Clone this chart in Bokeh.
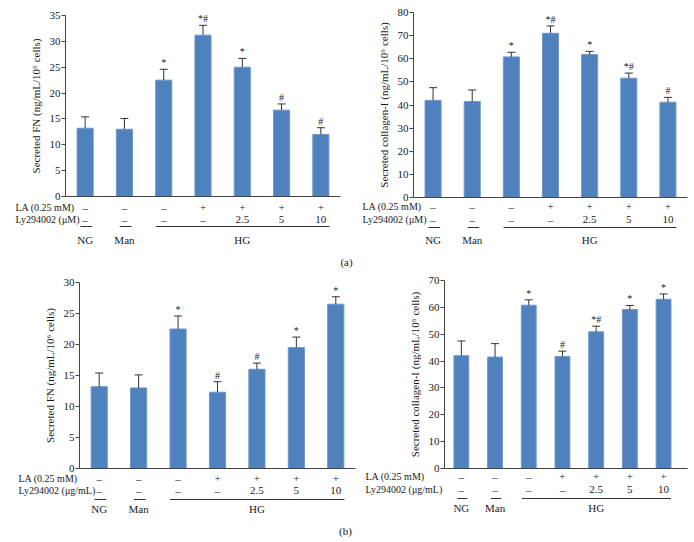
from bokeh.plotting import figure
from bokeh.models import (ColumnDataSource, LabelSet, Whisker, TeeHead,
                          Range1d, FixedTicker, LinearAxis)
from bokeh.core.properties import value
from bokeh.layouts import column, row
from bokeh.embed import file_html
from bokeh.resources import INLINE

# ---------------- data ----------------
positions = [1, 2, 3, 4, 5, 6, 7]
la_row = ["–", "–", "–", "+", "+", "+", "+"]
ly_row = ["–", "–", "–", "–", "2.5", "5", "10"]
group_names = ["NG", "Man", "HG"]
group_centers = [1, 2, 5]
group_lo = [0.88, 1.88, 2.8]
group_hi = [1.18, 2.18, 7.22]

# (a) left: Secreted FN, Ly294002 in uM
fn_a_mean = [13.2, 13.0, 22.5, 31.2, 25.0, 16.7, 12.0]
fn_a_err = [2.2, 2.1, 2.1, 1.9, 1.7, 1.2, 1.3]
fn_a_sig = ["", "", "*", "*#", "*", "#", "#"]

# (a) right: Secreted collagen-I
col_a_mean = [42.0, 41.5, 60.8, 71.0, 61.8, 51.6, 41.2]
col_a_err = [5.5, 5.0, 2.0, 3.2, 1.4, 2.2, 2.1]
col_a_sig = ["", "", "*", "*#", "*", "*#", "#"]

# (b) left: Secreted FN, Ly294002 in ug/mL
fn_b_mean = [13.2, 13.0, 22.5, 12.3, 16.0, 19.5, 26.5]
fn_b_err = [2.2, 2.1, 2.1, 1.7, 1.0, 1.7, 1.2]
fn_b_sig = ["", "", "*", "#", "#", "*", "*"]

# (b) right: Secreted collagen-I
col_b_mean = [42.0, 41.5, 60.8, 41.7, 50.9, 59.2, 63.0]
col_b_err = [5.5, 5.0, 2.0, 2.0, 2.1, 1.5, 2.0]
col_b_sig = ["", "", "*", "#", "*#", "*", "*"]

FONT = "Liberation Serif"
BAR = "#4F81BD"
INK = "#1a1a1a"
AXIS = "#444444"
FS = "11px"
FS_ROW = "10px"


def panel(mean, err, sig, ymax, step, ylabel, lylabel,
          width, height, fl, ft, fw, fh, xend, bar_w,
          rowlab_dx, dy_la, dy_ly, dy_line, dy_grp, tag=None):
    ppx = fw / (xend - 0.5)
    ppy = fh / ymax
    p = figure(width=width, height=height, title=None,
               min_border_left=0, min_border_right=0,
               min_border_top=0, min_border_bottom=0,
               x_range=Range1d(0.5 - fl / ppx, 0.5 + (width - fl) / ppx),
               y_range=Range1d(ymax - (height - ft) / ppy, ymax + ft / ppy),
               x_axis_location=None, y_axis_location=None,
               output_backend="svg", toolbar_location=None, tools="")
    p.outline_line_color = None
    p.xgrid.visible = False
    p.ygrid.visible = False

    # baseline (x axis without ticks) at y = 0
    xa = LinearAxis(fixed_location=0, bounds=(0.5, xend),
                    ticker=FixedTicker(ticks=[]))
    xa.major_tick_line_color = None
    xa.minor_tick_line_color = None
    xa.major_tick_out = 0
    xa.major_tick_in = 0
    xa.minor_tick_out = 0
    xa.major_label_standoff = 0
    xa.axis_line_color = AXIS
    xa.major_label_text_font_size = "0px"
    p.add_layout(xa, "below")

    ya = LinearAxis(fixed_location=0.5, bounds=(0, ymax),
                    ticker=FixedTicker(ticks=list(range(0, ymax + 1, step))))
    ya.axis_line_color = AXIS
    ya.major_tick_line_color = AXIS
    ya.major_tick_in = 0
    ya.major_tick_out = 4
    ya.minor_tick_line_color = None
    ya.major_label_standoff = 1
    ya.major_label_text_font = FONT
    ya.major_label_text_font_size = FS
    ya.major_label_text_color = INK
    ya.axis_label = ylabel
    ya.axis_label_text_font = FONT
    ya.axis_label_text_font_size = "11px"
    ya.axis_label_text_font_style = "normal"
    ya.axis_label_text_color = INK
    ya.axis_label_standoff = 5
    p.add_layout(ya, "left")

    top = [m + e for m, e in zip(mean, err)]
    src = ColumnDataSource(dict(x=positions, mean=mean, top=top, sig=sig))
    p.vbar(x="x", top="mean", width=bar_w, source=src,
           fill_color=BAR, line_color="#6f98cb", line_width=1)
    p.add_layout(Whisker(source=src, base="x", lower="mean", upper="top",
                         dimension="height", line_color="#333333", line_width=1,
                         lower_head=None,
                         upper_head=TeeHead(size=8, line_color="#333333", line_width=1),
                         level="overlay"))
    p.add_layout(LabelSet(x="x", y="top", text="sig", source=src, y_offset=1,
                          text_align="center", text_baseline="bottom",
                          text_font=FONT, text_font_size="10px", text_color=INK))

    # ---- treatment table below the baseline ----
    n = len(positions)
    tsrc = ColumnDataSource(dict(x=positions, la=la_row, ly=ly_row,
                                 yla=[-dy_la / ppy] * n, yly=[-dy_ly / ppy] * n))
    for col, ycol in (("la", "yla"), ("ly", "yly")):
        p.text(x="x", y=ycol, text=col, source=tsrc,
               text_align="center", text_baseline="middle",
               text_font=value(FONT), text_font_size=FS, text_color=INK)
    p.text(x=[0.5, 0.5], y=[-dy_la / ppy, -dy_ly / ppy],
           text=["LA (0.25 mM)", lylabel],
           x_offset=rowlab_dx, text_align="left", text_baseline="middle",
           text_font=value(FONT), text_font_size=FS_ROW, text_color=INK)
    gsrc = ColumnDataSource(dict(x=group_centers, name=group_names,
                                 lo=group_lo, hi=group_hi,
                                 yl=[-dy_line / ppy] * 3, yg=[-dy_grp / ppy] * 3))
    p.segment(x0="lo", y0="yl", x1="hi", y1="yl", source=gsrc,
              line_color="#333333", line_width=1)
    p.text(x="x", y="yg", text="name", source=gsrc,
           text_align="center", text_baseline="middle",
           text_font=value(FONT), text_font_size=FS, text_color=INK)
    if tag is not None:
        txt, dx, dy = tag
        p.text(x=[0.5], y=[-dy / ppy], text=[txt], x_offset=dx,
               text_align="center", text_baseline="middle",
               text_font=value(FONT), text_font_size=FS, text_color=INK)
    return p


ylab_fn = "Secreted FN (ng/mL/10⁶ cells)"
ylab_col = "Secreted collagen-I (ng/mL/10⁶ cells)"

p1 = panel(fn_a_mean, fn_a_err, fn_a_sig, 35, 5, ylab_fn, "Ly294002 (μM)",
           356, 271, 65, 15, 275, 181, 7.5, 0.41,
           -50, 11, 23, 30, 43, tag=("(a)", 281, 65))
p2 = panel(col_a_mean, col_a_err, col_a_sig, 80, 10, ylab_col, "Ly294002 (μM)",
           336, 271, 57, 12, 274, 185, 7.5, 0.41,
           -51, 9, 22, 30, 42)
p3 = panel(fn_b_mean, fn_b_err, fn_b_sig, 30, 5, ylab_fn, "Ly294002 (μg/mL)",
           358, 270, 79, 11, 276, 186, 7.5, 0.41,
           -61, 10, 22, 31, 40, tag=("(b)", 266, 62))
p4 = panel(col_b_mean, col_b_err, col_b_sig, 70, 10, ylab_col, "Ly294002 (μg/mL)",
           334, 270, 86, 9, 243, 188, 7.71, 0.44,
           -79, 8, 21, 30, 39)

layout = column(row(p1, p2), row(p3, p4))
open("out.html", "w").write(file_html(layout, INLINE))
